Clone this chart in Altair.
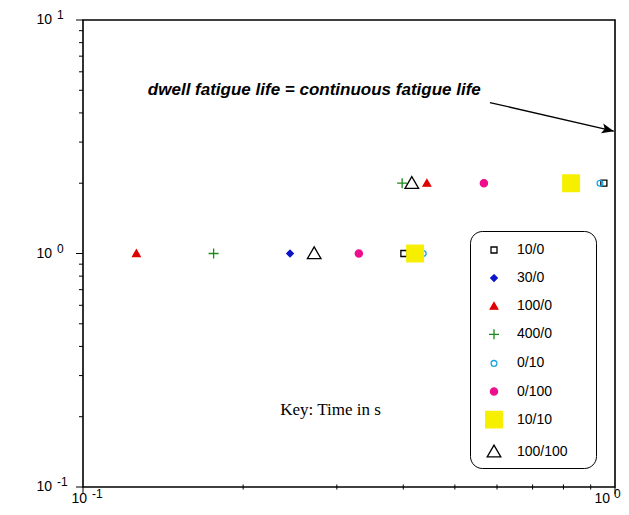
import altair as alt
import pandas as pd

# ---------------- data ----------------
series = ["10/0", "30/0", "100/0", "400/0", "0/10", "0/100", "10/10", "100/100"]
fills = ["transparent", "#0a14c8", "#e00000", "transparent", "transparent", "#ee0d8c", "#f7ef00", "transparent"]
strokes = ["black", "#0a14c8", "#e00000", "#1a8a1a", "#1aa5e6", "#ee0d8c", "#f7ef00", "black"]
paths = [
    "M-0.3,-0.3H0.3V0.3H-0.3Z",
    "M0,-0.33L0.33,0L0,0.33L-0.33,0Z",
    "M0,-0.36L0.38,0.3L-0.38,0.3Z",
    "M-0.5,0H0.5M0,-0.5V0.5",
    "M-0.29,0A0.29,0.29 0 1,0 0.29,0A0.29,0.29 0 1,0 -0.29,0Z",
    "M-0.36,0A0.36,0.36 0 1,0 0.36,0A0.36,0.36 0 1,0 -0.36,0Z",
    "M-0.83,-0.83H0.83V0.83H-0.83Z",
    "M0,-0.66L0.68,0.52L-0.68,0.52Z",
]

pt_series = ["10/0", "10/0", "30/0", "100/0", "100/0", "400/0", "400/0",
             "0/10", "0/10", "0/100", "0/100", "10/10", "10/10", "100/100", "100/100"]
pt_x = [0.401, 0.953, 0.245, 0.126, 0.443, 0.176, 0.398,
        0.436, 0.937, 0.330, 0.567, 0.421, 0.827, 0.272, 0.415]
pt_y = [1, 2, 1, 1, 2, 1, 2,
        1, 2, 1, 2, 1, 2, 1, 2]

x_major = [0.1, 1.0]
x_minor = [0.2, 0.3, 0.4, 0.5, 0.6, 0.7, 0.8, 0.9]
y_major = [0.1, 1, 10]
y_minor = [0.2, 0.3, 0.4, 0.5, 0.6, 0.7, 0.8, 0.9, 2, 3, 4, 5, 6, 7, 8, 9]

y_label_vals = [0.1, 1, 10]
y_label_exps = ["-1", "0", "1"]
x_label_left = [0.1]
x_label_left_exp = ["-1"]
x_label_right = [1]
x_label_right_exp = ["0"]

note_text = ["dwell fatigue life = continuous fatigue life"]
note_x = [0.1324]
note_y = [5.0]
arrow_x = [0.582]
arrow_y = [4.43]
arrow_x2 = [0.995]
arrow_y2 = [3.34]

key_text = ["Key: Time in s"]
key_x = [0.292]
key_y = [0.2128]

# ---------------- chart ----------------
xs = alt.Scale(type="log", domain=[0.1, 1], nice=False)
ys = alt.Scale(type="log", domain=[0.1, 10], nice=False)

# trailing non-breaking spaces (kept from trimming by a zero-width char) widen the legend box
pad = "\u00a0" * 5 + "\u200b"
leg = alt.Legend(title=None, orient="none", legendX=387, legendY=211, padding=8,
                 strokeColor="black", cornerRadius=12, fillColor="white",
                 rowPadding=10.1, labelFont="Liberation Sans", labelFontSize=14,
                 labelColor="black", labelOffset=12, symbolOffset=5, symbolSize=400,
                 symbolStrokeWidth=1.3,
                 labelExpr="datum.label + '" + pad + "'")

df_pts = pd.DataFrame({"x": pt_x, "y": pt_y, "s": pt_series})

points = alt.Chart(df_pts).mark_point(filled=False, size=400, strokeWidth=1.3, opacity=1).encode(
    x=alt.X("x:Q", scale=xs, axis=None),
    y=alt.Y("y:Q", scale=ys, axis=None),
    shape=alt.Shape("s:N", scale=alt.Scale(domain=series, range=paths), legend=leg),
    fill=alt.Fill("s:N", scale=alt.Scale(domain=series, range=fills), legend=leg),
    stroke=alt.Stroke("s:N", scale=alt.Scale(domain=series, range=strokes), legend=leg),
)

# tick marks drawn through the scales
ymaj = alt.Chart(pd.DataFrame({"y": y_major})).mark_rule(color="black", strokeWidth=1).encode(
    y=alt.Y("y:Q", scale=ys, axis=None), x=alt.value(-7), x2=alt.value(0))
ymin = alt.Chart(pd.DataFrame({"y": y_minor})).mark_rule(color="black", strokeWidth=1).encode(
    y=alt.Y("y:Q", scale=ys, axis=None), x=alt.value(-4), x2=alt.value(0))
xmaj = alt.Chart(pd.DataFrame({"x": x_major})).mark_rule(color="black", strokeWidth=1).encode(
    x=alt.X("x:Q", scale=xs, axis=None), y=alt.value(467), y2=alt.value(474))
xmin = alt.Chart(pd.DataFrame({"x": x_minor})).mark_rule(color="black", strokeWidth=1).encode(
    x=alt.X("x:Q", scale=xs, axis=None), y=alt.value(464.5), y2=alt.value(469.5))

df_ylab = pd.DataFrame({"y": y_label_vals, "e": y_label_exps})
ylab_base = alt.Chart(df_ylab).mark_text(align="right", baseline="middle", font="Liberation Sans",
                                         fontSize=14, color="black").encode(
    y=alt.Y("y:Q", scale=ys, axis=None), x=alt.value(-31), text=alt.value("10"))
ylab_exp = alt.Chart(df_ylab).mark_text(align="left", baseline="middle", font="Liberation Sans",
                                        fontSize=12, color="black", dy=-5).encode(
    y=alt.Y("y:Q", scale=ys, axis=None), x=alt.value(-26), text="e:N")

df_xl = pd.DataFrame({"x": x_label_left, "e": x_label_left_exp})
df_xr = pd.DataFrame({"x": x_label_right, "e": x_label_right_exp})
xl_base = alt.Chart(df_xl).mark_text(align="right", baseline="middle", font="Liberation Sans",
                                     fontSize=14, color="black", dx=4).encode(
    x=alt.X("x:Q", scale=xs, axis=None), y=alt.value(479), text=alt.value("10"))
xl_exp = alt.Chart(df_xl).mark_text(align="left", baseline="middle", font="Liberation Sans",
                                    fontSize=12, color="black", dx=9).encode(
    x=alt.X("x:Q", scale=xs, axis=None), y=alt.value(474), text="e:N")
xr_base = alt.Chart(df_xr).mark_text(align="right", baseline="middle", font="Liberation Sans",
                                     fontSize=14, color="black", dx=-5).encode(
    x=alt.X("x:Q", scale=xs, axis=None), y=alt.value(479), text=alt.value("10"))
xr_exp = alt.Chart(df_xr).mark_text(align="left", baseline="middle", font="Liberation Sans",
                                    fontSize=12, color="black", dx=-1).encode(
    x=alt.X("x:Q", scale=xs, axis=None), y=alt.value(474), text="e:N")

df_note = pd.DataFrame({"x": note_x, "y": note_y, "t": note_text})
note = alt.Chart(df_note).mark_text(align="left", baseline="middle", font="Liberation Sans",
                                    fontSize=17, fontStyle="italic", fontWeight="bold",
                                    color="black").encode(
    x=alt.X("x:Q", scale=xs, axis=None), y=alt.Y("y:Q", scale=ys, axis=None), text="t:N")

df_arrow = pd.DataFrame({"x": arrow_x, "y": arrow_y, "x2": arrow_x2, "y2": arrow_y2})
arrow_line = alt.Chart(df_arrow).mark_rule(color="black", strokeWidth=1.3).encode(
    x=alt.X("x:Q", scale=xs, axis=None), y=alt.Y("y:Q", scale=ys, axis=None),
    x2="x2:Q", y2="y2:Q")
arrow_head = alt.Chart(df_arrow).mark_point(shape="M0,0L-1,-0.42L-0.78,0L-1,0.42Z", filled=True,
                                            color="black", opacity=1, size=576, angle=13.3).encode(
    x=alt.X("x2:Q", scale=xs, axis=None), y=alt.Y("y2:Q", scale=ys, axis=None))

df_key = pd.DataFrame({"x": key_x, "y": key_y, "t": key_text})
key = alt.Chart(df_key).mark_text(align="center", baseline="middle", font="Liberation Serif",
                                  fontSize=17, color="black").encode(
    x=alt.X("x:Q", scale=xs, axis=None), y=alt.Y("y:Q", scale=ys, axis=None), text="t:N")

chart = alt.layer(ymaj, ymin, xmaj, xmin, points, ylab_base, ylab_exp, xl_base, xl_exp, xr_base, xr_exp,
                  note, arrow_line, arrow_head, key).properties(
    width=532, height=467,
    autosize=alt.AutoSizeParams(type="none"),
    padding={"left": 75, "top": 12, "right": 6, "bottom": 19},
).configure_view(stroke="black", strokeWidth=1.6)

chart.save("out.html", embed_options={"renderer": "svg", "actions": False})
